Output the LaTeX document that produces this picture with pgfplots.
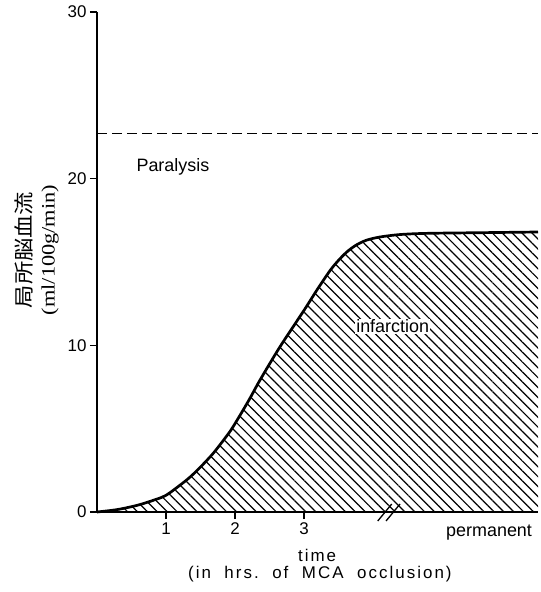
\documentclass[border=0pt]{standalone}
\usepackage{graphicx}
\usepackage{fontspec}
\setmainfont{Liberation Sans}
\newfontfamily\seriffont{Liberation Serif}
\newfontfamily\cjk{Noto Sans CJK JP}
\newfontfamily\spaced[LetterSpace=12]{Liberation Sans}
\usepackage{pgfplots}
\pgfplotsset{compat=1.18}
\usetikzlibrary{patterns.meta}
\begin{document}
\begin{tikzpicture}
\begin{axis}[
  width=441bp, height=500bp, scale only axis,
  xmin=0, xmax=6.391, ymin=0, ymax=30,
  axis lines=left,
  axis line style={-, line width=1.5bp},
  xtick={1,2,3}, ytick={0,10,20,30},
  tick align=outside,
  major tick length=7bp,
  tick style={line width=1.3bp, black},
  /pgf/number format/assume math mode=true,
  tick label style={font=\fontsize{17}{17}\selectfont},
  clip=false,
]
\addplot[draw=none, pattern={Lines[angle=-45,distance=7bp,line width=1.2bp]}, smooth] coordinates {
(0,0) (0.3,0.15) (0.6,0.42) (0.85,0.75) (1.0,1.0) (1.2,1.6) (1.35,2.1) (1.5,2.7)
(1.68,3.5) (1.85,4.4) (1.97,5.1) (2.2,6.7) (2.36,7.9) (2.65,9.9) (3.0,12.1)
(3.2,13.4) (3.38,14.5) (3.5,15.1) (3.62,15.6) (3.75,16.0) (3.9,16.3) (4.1,16.5)
(4.4,16.65) (4.8,16.72) (5.6,16.76) (6.391,16.8)} \closedcycle;
\addplot[line width=2.7bp, smooth] coordinates {
(0,0) (0.3,0.15) (0.6,0.42) (0.85,0.75) (1.0,1.0) (1.2,1.6) (1.35,2.1) (1.5,2.7)
(1.68,3.5) (1.85,4.4) (1.97,5.1) (2.2,6.7) (2.36,7.9) (2.65,9.9) (3.0,12.1)
(3.2,13.4) (3.38,14.5) (3.5,15.1) (3.62,15.6) (3.75,16.0) (3.9,16.3) (4.1,16.5)
(4.4,16.65) (4.8,16.72) (5.6,16.76) (6.391,16.8)};
\addplot[line width=1.6bp, dash pattern=on 10bp off 5bp] coordinates {(0,22.7) (6.391,22.7)};
\coordinate (O) at (axis cs:0,0);
\node[anchor=base west, font=\fontsize{18}{18}\selectfont] at (axis cs:0.522,20.4) {Paralysis};
\node[anchor=base west, font=\fontsize{18}{18}\selectfont, fill=white, inner sep=1bp] at (axis cs:3.74,10.74) {infarction};
\node[anchor=base west, font=\fontsize{18}{18}\selectfont] at (axis cs:5.01,-1.44) {permanent};
\node[anchor=base, font=\fontsize{17}{17}\spaced, inner sep=1bp] at (axis cs:3.19,-2.98) {time};
\node[anchor=base, font=\fontsize{17}{17}\spaced, inner sep=1bp] at (axis cs:3.23,-3.98) {(in\ \ hrs.\ \ of\ \ MCA\ \ occlusion)};
\node[rotate=90, anchor=center, inner sep=0pt] at (axis cs:-1.058,15.72) {\scalebox{1.17}[1]{\fontsize{20}{20}\cjk 局所脳血流}};
\node[rotate=90, anchor=center, inner sep=0pt] at (axis cs:-0.681,15.72) {\scalebox{1.18}[1]{\fontsize{19}{19}\seriffont (ml/100g/min)}};
\draw[line width=1.3bp] ([xshift=-7bp,yshift=-9bp]axis cs:4.17,0) -- ([xshift=7bp,yshift=8bp]axis cs:4.17,0);
\draw[line width=1.3bp] ([xshift=-7bp,yshift=-9bp]axis cs:4.29,0) -- ([xshift=7bp,yshift=8bp]axis cs:4.29,0);
\end{axis}
\path (O) ++(-97bp,-80bp) rectangle ++(541bp,592bp);
\end{tikzpicture}
\end{document}
